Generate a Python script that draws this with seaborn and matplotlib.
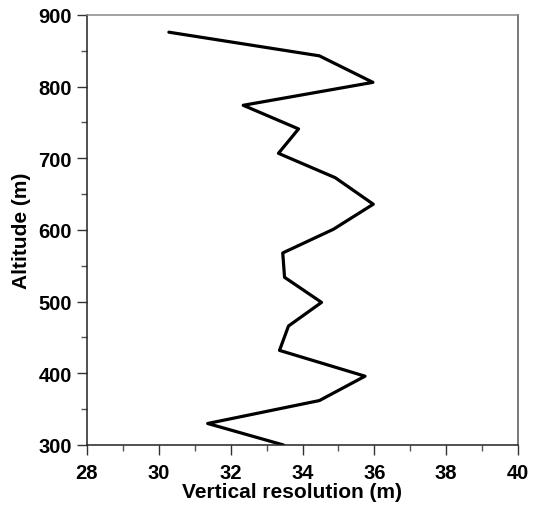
import matplotlib
matplotlib.use("Agg")
import matplotlib.pyplot as plt
import seaborn as sns
import pandas as pd
from matplotlib.ticker import MultipleLocator

# Vertical resolution profile
altitude = [876, 843, 806, 774, 741, 707, 673, 636, 601, 568, 534, 499, 466, 432, 396, 362, 330, 300]
resolution = [30.28, 34.47, 35.96, 32.35, 33.89, 33.33, 34.91, 35.97, 34.86, 33.45, 33.50, 34.53,
              33.61, 33.36, 35.74, 34.47, 31.36, 33.47]

x_ticks = [28, 30, 32, 34, 36, 38, 40]
y_ticks = [300, 400, 500, 600, 700, 800, 900]

df = pd.DataFrame({"res": resolution, "alt": altitude})

sns.set_style("white", {"text.color": "black", "axes.labelcolor": "black",
                        "xtick.color": "black", "ytick.color": "black"})
plt.rcParams["font.family"] = ["Liberation Sans", "DejaVu Sans"]
plt.rcParams["font.weight"] = "bold"

fig = plt.figure(figsize=(5.33, 5.06), dpi=100)
ax = fig.add_axes([0.1632, 0.1186, 0.9719 - 0.1632, 0.9684 - 0.1186])

sns.lineplot(data=df, x="res", y="alt", sort=False, estimator=None,
             color="black", linewidth=2.3, ax=ax)

ax.set_xlim(28, 40)
ax.set_ylim(300, 900)
ax.set_xticks(x_ticks)
ax.set_yticks(y_ticks)
ax.xaxis.set_minor_locator(MultipleLocator(1))
ax.yaxis.set_minor_locator(MultipleLocator(50))
ax.tick_params(which="major", direction="out", length=7, width=1, color="#333333",
               labelcolor="black", labelsize=14.5, bottom=True, left=True)
ax.tick_params(axis="x", which="major", pad=6)
ax.tick_params(axis="y", which="major", pad=4)
ax.tick_params(which="minor", direction="out", length=4, width=1, color="#555555",
               bottom=True, left=True)
for lbl in ax.get_xticklabels() + ax.get_yticklabels():
    lbl.set_fontweight("bold")

ax.set_xlabel("Vertical resolution (m)", fontsize=15, fontweight="bold", labelpad=0,
              x=0.475, color="black")
ax.set_ylabel("Altitude (m)", fontsize=15, fontweight="bold", labelpad=5, color="black")

for side in ["left", "bottom"]:
    ax.spines[side].set_color("#222222")
    ax.spines[side].set_linewidth(1.1)
ax.spines["top"].set_color("#888888")
ax.spines["right"].set_color("#555555")
for side in ["top", "right"]:
    ax.spines[side].set_linewidth(1.1)
    ax.spines[side].set_visible(True)

fig.savefig("out.png", dpi=100)
